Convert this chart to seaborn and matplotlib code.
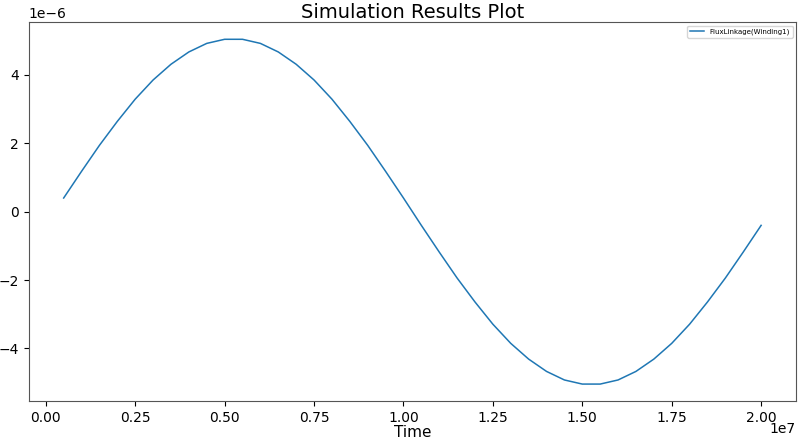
import matplotlib
matplotlib.use("Agg")
import matplotlib.pyplot as plt
import matplotlib.transforms as mtransforms
import seaborn as sns
import pandas as pd

# Time points (s) and flux linkage values
time = [0.05e7 * k for k in range(1, 41)]
flux = [0.40, 1.18, 1.94, 2.64, 3.29, 3.85, 4.31, 4.67, 4.92, 5.04,
        5.04, 4.92, 4.67, 4.31, 3.85, 3.29, 2.64, 1.94, 1.18, 0.40,
        -0.40, -1.18, -1.94, -2.64, -3.29, -3.85, -4.31, -4.67, -4.92, -5.04,
        -5.04, -4.92, -4.67, -4.31, -3.85, -3.29, -2.64, -1.94, -1.18, -0.40]
flux = [v * 1e-6 for v in flux]

df = pd.DataFrame({"Time": time, "FluxLinkage(Winding1)": flux})

fig, ax = plt.subplots(figsize=(8, 4.41), dpi=100)
sns.lineplot(data=df, x="Time", y="FluxLinkage(Winding1)", ax=ax,
             color="#1f77b4", linewidth=1.1, label="FluxLinkage(Winding1)")

ax.set_title("Simulation Results Plot", fontsize=14, pad=3)
ax.set_xlabel("Time", fontsize=11, labelpad=0)
ax.set_ylabel("")
ax.tick_params(labelsize=10)
offx = ax.xaxis.get_offset_text()
offx.set_fontsize(10)
offx.set_transform(offx.get_transform() +
                   mtransforms.ScaledTranslation(0, 5 / 72, fig.dpi_scale_trans))
ax.yaxis.get_offset_text().set_fontsize(10)
for s in ax.spines.values():
    s.set_color("#555555")
ax.legend(loc="upper right", fontsize=5)

plt.subplots_adjust(left=0.036, right=0.995, top=0.95, bottom=0.09)
plt.savefig("out.png", dpi=100)
